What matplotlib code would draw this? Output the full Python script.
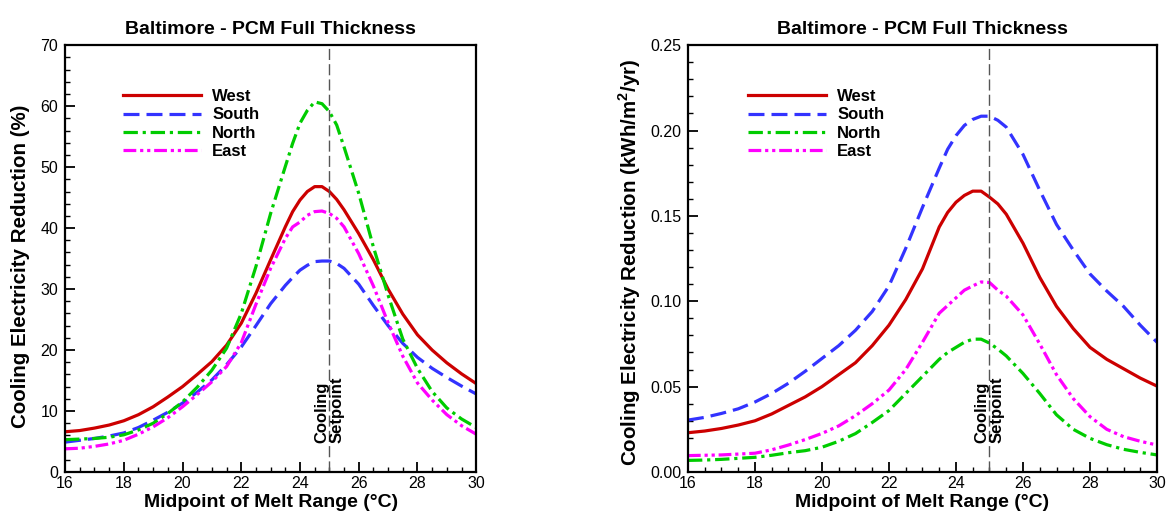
import numpy as np
import matplotlib
matplotlib.use('Agg')
import matplotlib.pyplot as plt
from matplotlib.ticker import MultipleLocator, FormatStrFormatter
import matplotlib.transforms as mtransforms

plt.rcParams['font.family'] = ['Liberation Sans', 'DejaVu Sans']
plt.rcParams['mathtext.fontset'] = 'custom'
plt.rcParams['mathtext.rm'] = 'Liberation Sans:bold'
plt.rcParams['mathtext.bf'] = 'Liberation Sans:bold'

# melt range midpoints (degC)
melt_mid = [16, 16.5, 17, 17.5, 18, 18.5, 19, 19.5, 20, 20.5, 21, 21.5, 22, 22.5,
            23, 23.5, 23.75, 24, 24.25, 24.5, 24.75, 25, 25.25, 25.5, 26, 26.5, 27,
            27.5, 28, 28.5, 29, 29.5, 30]

# left panel: cooling electricity reduction (%)
pct_west = [6.6, 6.8, 7.2, 7.7, 8.4, 9.4, 10.7, 12.3, 14.0, 16.0, 18.1, 20.8, 24.4, 29.3,
            34.8, 40.2, 42.7, 44.6, 46.0, 46.8, 46.8, 46.0, 44.7, 43.0, 39.1, 34.8, 30.0,
            25.9, 22.5, 20.0, 17.9, 16.1, 14.5]
pct_south = [4.9, 5.2, 5.5, 5.9, 6.4, 7.3, 8.5, 9.8, 11.3, 13.1, 15.1, 17.6, 20.5, 24.0,
             27.6, 30.6, 31.9, 33.1, 33.9, 34.5, 34.6, 34.6, 34.2, 33.4, 30.8, 27.3, 24.0,
             21.1, 18.8, 17.0, 15.5, 14.1, 12.8]
pct_north = [5.3, 5.4, 5.5, 5.7, 6.1, 6.9, 8.0, 9.6, 11.5, 13.9, 16.7, 20.3, 26.0, 33.7,
             42.4, 50.1, 53.9, 57.2, 59.3, 60.7, 60.4, 59.1, 56.9, 53.3, 45.7, 36.9, 29.0,
             21.8, 17.0, 13.2, 10.5, 8.7, 7.3]
pct_east = [3.8, 3.9, 4.2, 4.6, 5.2, 6.2, 7.4, 8.9, 10.7, 12.7, 14.8, 17.3, 21.2, 27.5,
            33.4, 38.3, 40.2, 41.0, 42.1, 42.7, 42.8, 42.4, 41.6, 40.2, 35.8, 30.5, 24.5,
            19.0, 14.6, 11.8, 9.4, 7.6, 6.2]

# right panel: cooling electricity reduction (kWh/m2/yr)
kwh_west = [0.023, 0.024, 0.0255, 0.0275, 0.030, 0.034, 0.039, 0.044, 0.050, 0.057, 0.064,
            0.074, 0.086, 0.101, 0.119, 0.1435, 0.152, 0.158, 0.162, 0.1645, 0.1645, 0.161,
            0.157, 0.151, 0.134, 0.114, 0.097, 0.084, 0.073, 0.066, 0.0605, 0.055, 0.0503]
kwh_south = [0.0304, 0.032, 0.0343, 0.037, 0.041, 0.046, 0.052, 0.059, 0.0665, 0.074, 0.083,
             0.094, 0.109, 0.131, 0.155, 0.178, 0.189, 0.197, 0.203, 0.2065, 0.2084, 0.2084,
             0.206, 0.202, 0.186, 0.165, 0.145, 0.130, 0.116, 0.106, 0.097, 0.086, 0.076]
kwh_north = [0.0068, 0.007, 0.0074, 0.008, 0.0086, 0.0098, 0.0113, 0.0125, 0.0145, 0.018, 0.0225,
             0.029, 0.036, 0.046, 0.056, 0.066, 0.070, 0.073, 0.076, 0.0778, 0.0778, 0.0755,
             0.072, 0.068, 0.0577, 0.046, 0.0335, 0.025, 0.0197, 0.016, 0.0133, 0.0115, 0.010]
kwh_east = [0.0096, 0.0098, 0.010, 0.0105, 0.011, 0.013, 0.0158, 0.019, 0.0226, 0.027, 0.033,
            0.040, 0.048, 0.060, 0.076, 0.093, 0.0975, 0.102, 0.1065, 0.109, 0.1113, 0.111,
            0.1065, 0.103, 0.092, 0.075, 0.057, 0.043, 0.0324, 0.025, 0.0207, 0.018, 0.0158]

setpoint = 25

styles = {
    'West': dict(color='#cc0000', linestyle='-'),
    'South': dict(color='#3333ff', dashes=(5, 2.2)),
    'North': dict(color='#00cc00', dashes=(4.5, 1.5, 1, 1.5)),
    'East': dict(color='#ff00ff', dashes=(4, 1.2, 1, 1.2, 1, 1.2)),
}


def draw_panel(ax, series, ylim, ymajor, yminor, yfmt, ylabel, leg_x):
    for name, vals in series:
        ax.plot(melt_mid, vals, lw=2.3, label=name, **styles[name])
    ax.axvline(setpoint, color='#555555', lw=1.0, dashes=(8, 3))
    trans = mtransforms.blended_transform_factory(ax.transData, ax.transAxes)
    ax.text(setpoint, 0.068, 'Cooling\nSetpoint', rotation=90, ha='center', va='bottom',
            multialignment='left', fontsize=12, fontweight='bold', transform=trans,
            linespacing=1.05)
    ax.set_xlim(16, 30)
    ax.set_ylim(*ylim)
    ax.xaxis.set_major_locator(MultipleLocator(2))
    ax.xaxis.set_minor_locator(MultipleLocator(0.5))
    ax.yaxis.set_major_locator(MultipleLocator(ymajor))
    ax.yaxis.set_minor_locator(MultipleLocator(yminor))
    ax.yaxis.set_major_formatter(FormatStrFormatter(yfmt))
    ax.tick_params(which='both', direction='in', top=False, right=False, labelsize=11.5)
    ax.tick_params(axis='x', pad=3)
    ax.tick_params(axis='y', pad=5)
    ax.tick_params(which='major', length=7, width=1.3)
    ax.tick_params(which='minor', length=3.6, width=1)
    for sp in ax.spines.values():
        sp.set_linewidth(1.6)
    ax.set_title('Baltimore - PCM Full Thickness', fontsize=14, fontweight='bold', pad=8)
    ax.set_xlabel('Midpoint of Melt Range (\u00b0C)', fontsize=14, fontweight='bold', labelpad=2)
    ax.set_ylabel(ylabel, fontsize=14.8, fontweight='bold')
    ax.legend(loc='upper left', bbox_to_anchor=(leg_x, 0.897), frameon=False,
              borderpad=0, borderaxespad=0,
              handlelength=4.7, handletextpad=0.66, labelspacing=0.2,
              prop={'weight': 'bold', 'size': 12})


fig = plt.figure(figsize=(11.68, 5.18), dpi=100)
ax1 = fig.add_axes([0.0557, 0.0888, 0.352, 0.824])
ax2 = fig.add_axes([0.589, 0.0888, 0.4016, 0.824])

draw_panel(ax1, [('West', pct_west), ('South', pct_south), ('North', pct_north), ('East', pct_east)],
           (0, 70), 10, 2, '%d', 'Cooling Electricity Reduction (%)', 0.141)
draw_panel(ax2, [('West', kwh_west), ('South', kwh_south), ('North', kwh_north), ('East', kwh_east)],
           (0, 0.25), 0.05, 0.01, '%.2f', r'Cooling Electricity Reduction (kWh/m$^{\mathbf{2}}$/yr)', 0.128)
ax1.yaxis.set_label_coords(-0.085, 0.482)
ax2.yaxis.set_label_coords(-0.095, 0.49)

fig.savefig('out.png', dpi=100)
